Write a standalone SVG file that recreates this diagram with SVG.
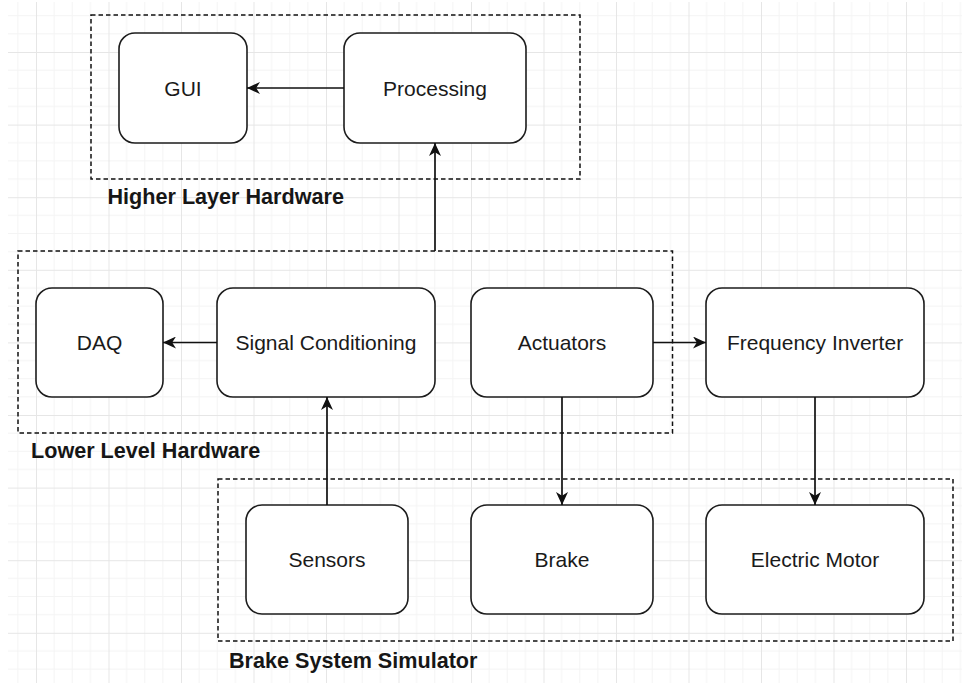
<svg xmlns="http://www.w3.org/2000/svg" width="962" height="683" viewBox="0 0 962 683">
  <defs>
    <style>
      .node rect { fill: #ffffff; stroke: #1c1c1c; stroke-width: 1.6; }
      .node text { font-family: "Liberation Sans", Arial, sans-serif; font-size: 21px; fill: #1a1a1a; text-anchor: middle; }
      .group rect { fill: none; stroke: #111111; stroke-width: 1.5; stroke-dasharray: 4.5 3; }
      .group text { font-family: "Liberation Sans", Arial, sans-serif; font-size: 21.6px; font-weight: bold; fill: #161616; }
      .edge { fill: none; stroke: #111111; stroke-width: 1.7; marker-end: url(#arrow); }
      .grid-minor { stroke: #f4f4f4; stroke-width: 1; }
      .grid-major { stroke: #e6e6e6; stroke-width: 1; }
    </style>
    <pattern id="grid" patternUnits="userSpaceOnUse" x="36" y="52" width="72.5" height="72.6">
      <path class="grid-minor" d="M18.1,0 V72.6 M36.25,0 V72.6 M54.4,0 V72.6 M0,18.15 H72.5 M0,36.3 H72.5 M0,54.45 H72.5"/>
      <path class="grid-major" d="M0.5,0 V72.6 M0,0.5 H72.5"/>
    </pattern>
    <marker id="arrow" markerUnits="userSpaceOnUse" viewBox="0 0 13 12" markerWidth="13" markerHeight="12" refX="13" refY="6" orient="auto">
      <path d="M0,0 L13,6 L0,12 L3.8,6 Z" fill="#111111"/>
    </marker>
  </defs>

  <!-- canvas and grid -->
  <rect x="0" y="0" width="962" height="683" fill="#ffffff"/>
  <rect x="8" y="2" width="954" height="681" fill="url(#grid)"/>

  <!-- dashed containers -->
  <g id="higher-layer-hardware" class="group">
    <rect x="91" y="15" width="489" height="164"/>
    <text x="107.5" y="204">Higher Layer Hardware</text>
  </g>
  <g id="lower-level-hardware" class="group">
    <rect x="18" y="251" width="654.5" height="182"/>
    <text x="31" y="458">Lower Level Hardware</text>
  </g>
  <g id="brake-system-simulator" class="group">
    <rect x="218" y="479" width="735" height="162"/>
    <text x="229" y="668">Brake System Simulator</text>
  </g>

  <!-- nodes -->
  <g id="gui" class="node">
    <rect x="119" y="33" width="128" height="110" rx="16" ry="16"/>
    <text x="183" y="95.5">GUI</text>
  </g>
  <g id="processing" class="node">
    <rect x="344" y="33" width="182" height="110" rx="16" ry="16"/>
    <text x="435" y="95.5">Processing</text>
  </g>
  <g id="daq" class="node">
    <rect x="36" y="288" width="127" height="109" rx="16" ry="16"/>
    <text x="99.5" y="350">DAQ</text>
  </g>
  <g id="signal-conditioning" class="node">
    <rect x="217" y="288" width="218" height="109" rx="16" ry="16"/>
    <text x="326" y="350">Signal Conditioning</text>
  </g>
  <g id="actuators" class="node">
    <rect x="471" y="288" width="182" height="109" rx="16" ry="16"/>
    <text x="562" y="350">Actuators</text>
  </g>
  <g id="frequency-inverter" class="node">
    <rect x="706" y="288" width="218" height="109" rx="16" ry="16"/>
    <text x="815" y="350">Frequency Inverter</text>
  </g>
  <g id="sensors" class="node">
    <rect x="246" y="505" width="162" height="109" rx="16" ry="16"/>
    <text x="327" y="567">Sensors</text>
  </g>
  <g id="brake" class="node">
    <rect x="471" y="505" width="182" height="109" rx="16" ry="16"/>
    <text x="562" y="567">Brake</text>
  </g>
  <g id="electric-motor" class="node">
    <rect x="706" y="505" width="218" height="109" rx="16" ry="16"/>
    <text x="815" y="567">Electric Motor</text>
  </g>

  <!-- connectors -->
  <g id="connectors">
    <path class="edge" d="M344,88 H247"/>
    <path class="edge" d="M435,251 V143"/>
    <path class="edge" d="M217,342.5 H163"/>
    <path class="edge" d="M653,342.5 H706"/>
    <path class="edge" d="M327,505 V397"/>
    <path class="edge" d="M562,397 V505"/>
    <path class="edge" d="M815,397 V505"/>
  </g>
</svg>
